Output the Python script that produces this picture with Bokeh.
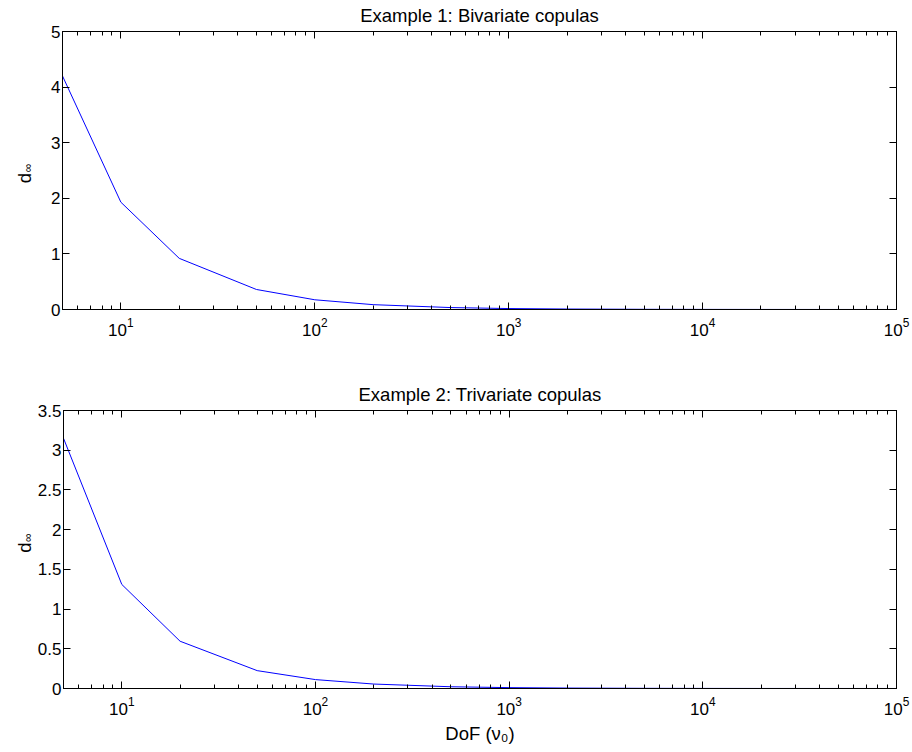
import math
from bokeh.plotting import figure
from bokeh.layouts import column, row
from bokeh.models import (Range1d, LogAxis, LinearAxis, SingleIntervalTicker,
                          LogTicker, CustomJSTickFormatter)
from bokeh.core.properties import value
from bokeh.embed import file_html
from bokeh.resources import INLINE

# ---- data ----
nu = [5, 10, 20, 50, 100, 200, 500, 1000, 2000, 5000, 10000, 20000, 50000, 100000]
d_biv = [4.20, 1.93, 0.92, 0.36, 0.175, 0.087, 0.035, 0.017, 0.0087, 0.0035,
         0.0017, 0.00087, 0.00035, 0.00017]
d_triv = [3.15, 1.31, 0.595, 0.225, 0.112, 0.056, 0.022, 0.011, 0.0056, 0.0022,
          0.0011, 0.00056, 0.00022, 0.00011]

titles = ["Example 1: Bivariate copulas", "Example 2: Trivariate copulas"]
y_max = [5, 3.5]
y_step = [1, 0.5]
x_label = "DoF (\u03bd\u2080)"
y_label_main = "d"
y_label_sub = "\u221e"
# where the rotated "d" and its subscript start, in data units of each panel
y_label_pos = [(2.27, 2.47), (1.71, 1.845)]

FONT = "Liberation Sans"
FS = "17px"        # tick labels
FS_L = "18.5px"    # title and axis labels
LAB_W = 34         # width of the strip that holds the y label
FRAME_W = 834
FRAME_H = 278


def style_axis(ax, labels=True):
    ax.axis_line_color = "black"
    ax.axis_line_width = 1
    ax.major_tick_line_color = "black"
    ax.minor_tick_line_color = "black"
    ax.major_tick_in = 7
    ax.major_tick_out = 0
    ax.minor_tick_in = 4
    ax.minor_tick_out = 0
    ax.major_label_text_font = FONT
    ax.major_label_text_font_size = FS
    ax.major_label_text_color = "black"
    if not labels:
        ax.major_label_text_font_size = "0px"
        ax.major_label_standoff = 0
        ax.formatter = CustomJSTickFormatter(code="return ''")


def make(idx, yvals, top, bottom, show_xlabel):
    yr = Range1d(0, y_max[idx])
    p = figure(width=912 - LAB_W, height=top + FRAME_H + bottom, x_axis_type="log",
               x_range=Range1d(5, 1e5), y_range=yr,
               output_backend="svg", toolbar_location=None,
               min_border_left=62 - LAB_W, min_border_right=912 - 62 - FRAME_W,
               min_border_top=top, min_border_bottom=bottom,
               title=titles[idx])
    p.title.text_font = FONT
    p.title.text_font_size = FS_L
    p.title.text_font_style = "normal"
    p.title.align = "center"
    p.title.vertical_align = "top"
    p.title.standoff = 7
    p.title.text_color = "black"
    p.grid.visible = False
    p.outline_line_color = "black"
    p.background_fill_color = "white"
    p.border_fill_color = "white"

    xa = p.xaxis[0]
    xa.ticker = LogTicker(num_minor_ticks=10)
    style_axis(xa)
    xa.major_label_standoff = 8
    if show_xlabel:
        xa.axis_label = x_label
        xa.axis_label_text_font = FONT
        xa.axis_label_text_font_size = FS_L
        xa.axis_label_text_font_style = "normal"
        xa.axis_label_text_color = "black"
        xa.axis_label_standoff = 5

    ya = p.yaxis[0]
    ya.ticker = SingleIntervalTicker(interval=y_step[idx])
    ya.formatter = CustomJSTickFormatter(code="return String(Math.round(tick*10)/10)")
    style_axis(ya)
    ya.minor_tick_line_color = None
    ya.major_label_standoff = 2

    top_ax = LogAxis(ticker=LogTicker(num_minor_ticks=10))
    style_axis(top_ax, labels=False)
    p.add_layout(top_ax, "above")
    right_ax = LinearAxis(ticker=SingleIntervalTicker(interval=y_step[idx]))
    style_axis(right_ax, labels=False)
    right_ax.minor_tick_line_color = None
    p.add_layout(right_ax, "right")

    p.line(nu, yvals, line_color="#0000ff", line_width=1)

    # narrow strip on the left that carries the rotated y label "d" + subscript
    lab = figure(width=LAB_W, height=top + FRAME_H + bottom,
                 x_range=Range1d(0, LAB_W), y_range=yr,
                 x_axis_location=None, y_axis_location=None,
                 output_backend="svg", toolbar_location=None,
                 min_border_left=0, min_border_right=0,
                 min_border_top=top, min_border_bottom=bottom)
    lab.outline_line_color = None
    lab.grid.visible = False
    lab.background_fill_color = "white"
    lab.border_fill_color = "white"
    lab.text(x=[24], y=[y_label_pos[idx][0]], text=[y_label_main],
             angle=math.pi / 2, text_font=value(FONT), text_font_size=FS_L,
             text_align="left", text_baseline="alphabetic", text_color="black")
    lab.text(x=[27], y=[y_label_pos[idx][1]], text=[y_label_sub],
             angle=math.pi / 2, text_font=value(FONT), text_font_size="12px",
             text_align="left", text_baseline="middle", text_color="black")
    return row(lab, p)


r1 = make(0, d_biv, 31, 50, False)
r2 = make(1, d_triv, 51, 64, True)
layout = column(r1, r2)

open("out.html", "w").write(file_html(layout, INLINE))
